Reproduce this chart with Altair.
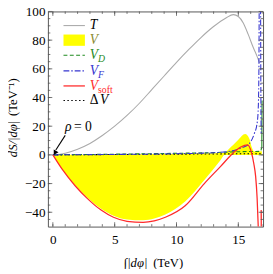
import altair as alt
import pandas as pd

# ---------------- data ----------------
T_x = [0, 1, 2, 3, 4, 5, 6, 7, 8, 9, 10, 11, 12, 13, 14, 14.6, 15.0, 15.4, 15.8, 16.2, 16.5, 16.72]
T_y = [0, 1.2, 4, 8, 13.5, 20, 27.5, 36, 45.5, 55, 64.5, 73.5, 82, 89.5, 95.5, 97.8, 96.5, 92, 84, 75, 69, 64]

V_x = [0, 0.75, 1.8, 2.8, 3.9, 4.9, 6, 7.3, 8.2, 9.1, 10.7, 12.25, 13.57, 13.88, 14.2, 14.6, 15.0, 15.55, 15.9, 16.1, 16.3, 16.9]
V_lo = [0, -9.8, -21, -29.9, -37.6, -42.4, -45, -45.6, -44.4, -41.5, -32.5, -17.5, -3.5, 0, 0, 0, 0, 0, 0, 0, 0, 0]
V_hi = [0, 0.05, 0.1, 0.15, 0.2, 0.3, 0.4, 0.5, 0.6, 0.7, 0.9, 1.1, 1.3, 1.4, 3.8, 7, 10.5, 14.5, 11, 5, 2.3, 2.5]

VD_x = [0, 5, 10, 13, 15, 16.8, 16.88]
VD_y = [0, 0.5, 1.1, 1.6, 2.2, 2.5, 5]
VD_tail_x = [16.9, 16.92]
VD_tail_y = [5, 38]

VF1_x = [0, 5, 10, 13, 14.5, 15.3, 15.9, 16.3, 16.5, 16.6, 16.66, 16.69]
VF1_y = [0, 0.3, 0.8, 1.5, 2.8, 5, 8, 15, 21, 30, 55, 110]
VF2_x = [16.8, 16.82, 16.85]
VF2_y = [110, 50, 15]

VS_x = [0, 0.75, 1.8, 2.8, 3.9, 4.9, 6, 7.3, 8.2, 9.1, 10.7, 12.25, 13.57, 14.6, 15.2, 15.75, 16.05, 16.25, 16.4, 16.52, 16.62]
VS_y = [0, -10, -21.5, -30.5, -38.5, -43.5, -46.3, -47, -46, -43.5, -35.5, -20, -8, 1.5, 5.5, 7, 2, -6, -15, -30, -52]
VS2_x = [16.85, 16.86]
VS2_y = [-38.5, -60]

DV_x = [0, 5, 10, 14, 16.9]
DV_y = [0, 0.25, 0.5, 0.7, 0.8]

x_major = [0, 5, 10, 15]
x_minor = list(range(0, 18))
y_major = [-40, -20, 0, 20, 40, 60, 80, 100]
y_minor = list(range(-45, 100, 5))

# ---------------- styling ----------------
W, H = 221, 221
SERIF = "Liberation Serif"
FRAME = "#555555"
C_T, C_D, C_F, C_S, C_Y = "#aaaaaa", "#1f8a1f", "#3535d0", "#ff2a2a", "#ffff00"

X = alt.X("x:Q", scale=alt.Scale(domain=[-0.4, 17], nice=False, zero=False),
          axis=alt.Axis(values=x_major, ticks=False, domain=False, grid=False,
                        labelFont=SERIF, labelFontSize=13.5, labelPadding=6,
                        labelColor="black", labelFlush=False, title=None))
Y = alt.Y("y:Q", scale=alt.Scale(domain=[-50, 100], nice=False, zero=False),
          axis=alt.Axis(values=y_major, ticks=False, domain=False, grid=False,
                        labelFont=SERIF, labelFontSize=13.5, labelPadding=3,
                        labelColor="black", title=None))

layers = []

# yellow V band
dfV = pd.DataFrame({"x": V_x, "y": V_lo, "y2": V_hi})
layers.append(alt.Chart(dfV).mark_area(color=C_Y, opacity=1, interpolate="monotone", clip=True)
              .encode(x=X, y=Y, y2="y2:Q"))


def line(xv, yv, color, dash=None, width=1.0):
    kw = dict(color=color, strokeWidth=width, interpolate="monotone", clip=True)
    if dash:
        kw["strokeDash"] = dash
    return alt.Chart(pd.DataFrame({"x": xv, "y": yv})).mark_line(**kw).encode(x=X, y=Y)


DASH_D = [4, 2.5]
DASH_F = [6, 2, 1.5, 2]
DASH_DV = [1.5, 2.5]

layers.append(line(T_x, T_y, C_T, width=1.1))
layers.append(line(DV_x, DV_y, "black", DASH_DV, 1.1))
layers.append(line(VD_x, VD_y, C_D, DASH_D, 1.1))
layers.append(line(VD_tail_x, VD_tail_y, C_D, None, 1.1))
layers.append(line(VF1_x, VF1_y, C_F, DASH_F, 1.1))
layers.append(line(VF2_x, VF2_y, C_F, DASH_F, 1.1))
layers.append(line(VS_x, VS_y, C_S, None, 1.3))
layers.append(line(VS2_x, VS2_y, C_S, None, 1.3))

# frame ticks (inward, on all four sides)
def xticks(vals, size):
    df = pd.DataFrame({"x": vals})
    b = alt.Chart(df).mark_rule(color=FRAME, strokeWidth=0.8).encode(x=X, y=alt.value(H), y2=alt.value(H - size))
    t = alt.Chart(df).mark_rule(color=FRAME, strokeWidth=0.8).encode(x=X, y=alt.value(0), y2=alt.value(size))
    return [b, t]


def yticks(vals, size):
    df = pd.DataFrame({"y": vals})
    l = alt.Chart(df).mark_rule(color=FRAME, strokeWidth=0.8).encode(y=Y, x=alt.value(0), x2=alt.value(size))
    r = alt.Chart(df).mark_rule(color=FRAME, strokeWidth=0.8).encode(y=Y, x=alt.value(W), x2=alt.value(W - size))
    return [l, r]


layers += xticks(x_minor, 2.5) + xticks(x_major, 4.5)
layers += yticks(y_minor, 2.5) + yticks(y_major, 4.5)

one = pd.DataFrame({"a": [0]})


def txt(px, py, s, color="black", size=14, style="italic", align="left", angle=0):
    kw = dict(text=s, color=color, fontSize=size, font=SERIF, fontStyle=style,
              align=align, baseline="middle")
    if angle:
        kw["angle"] = angle
    return alt.Chart(one).mark_text(**kw).encode(x=alt.value(px), y=alt.value(py))


def sample(py, color, dash=None, width=1.1):
    kw = dict(color=color, strokeWidth=width)
    if dash:
        kw["strokeDash"] = dash
    return alt.Chart(one).mark_rule(**kw).encode(x=alt.value(16), x2=alt.value(38), y=alt.value(py))


# legend
LX = 43
layers.append(sample(14.5, C_T))
layers.append(txt(LX, 14.5, "T"))
layers.append(alt.Chart(one).mark_rect(color=C_Y).encode(
    x=alt.value(16), x2=alt.value(38), y=alt.value(23.7), y2=alt.value(35.3)))
layers.append(txt(LX, 29.5, "V", color="#8a8a30"))
layers.append(sample(45, C_D, DASH_D))
layers.append(txt(LX, 45, "V", color=C_D))
layers.append(txt(LX + 8.5, 49, "D", color=C_D, size=10))
layers.append(sample(61, C_F, DASH_F))
layers.append(txt(LX, 61, "V", color=C_F))
layers.append(txt(LX + 8.5, 65, "F", color=C_F, size=10))
layers.append(sample(76.5, C_S, None, 1.3))
layers.append(txt(LX, 76.5, "V", color=C_S))
layers.append(txt(LX + 8.5, 80.5, "soft", color=C_S, size=10, style="normal"))
layers.append(sample(91.5, "black", DASH_DV))
layers.append(txt(LX, 91.5, "Δ", style="normal"))
layers.append(txt(LX + 10.5, 91.5, "V"))

# rho = 0 annotation with arrow
layers.append(alt.Chart(pd.DataFrame({"x": [1.0, 0.24], "y": [13.6, 3.4]}))
              .mark_line(color="black", strokeWidth=1.1).encode(x=X, y=Y))
layers.append(alt.Chart(pd.DataFrame({"x": [0.2], "y": [1.8]}))
              .mark_point(shape="triangle", filled=True, size=32, angle=210, color="black", opacity=1)
              .encode(x=X, y=Y))
layers.append(txt(21, 118.7, "ρ", align="center"))
layers.append(txt(36, 118.7, "= 0", style="normal", align="center"))

# axis titles
layers.append(txt(-36, 131, "dS/|dφ|", size=13, align="center", angle=270))
layers.append(txt(-36, 88, "(TeV⁻¹)", size=13, style="normal", align="center", angle=270))
layers.append(txt(90, 258, "∫|dφ|", size=13, align="center"))
layers.append(txt(123.5, 258, "(TeV)", size=13, style="normal", align="center"))

chart = alt.layer(*layers).properties(
    width=W, height=H,
    autosize=alt.AutoSizeParams(type="none"),
    padding={"left": 41, "top": 0, "right": 2, "bottom": 40},
    background="white",
).configure_view(stroke=FRAME, strokeWidth=1)

chart.save("out.html", embed_options={"renderer": "svg", "actions": False})
